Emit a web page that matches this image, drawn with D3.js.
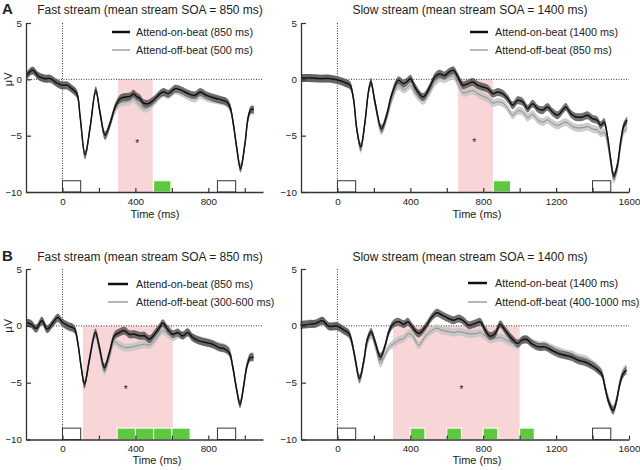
<!DOCTYPE html>
<html><head><meta charset="utf-8">
<script src="https://cdn.jsdelivr.net/npm/d3@7"></script>
<style>
body{margin:0;background:#fff}
svg{display:block}
text{font-family:"Liberation Sans",Arial,Helvetica,sans-serif;fill:#222}
</style>
</head><body>
<svg id="chart" width="640" height="470"></svg>
<script>
// ---------------- DATA ----------------
// Panel A, fast stream
const timeA1 = [-195,-164,-131,-95,-67,-31,-3,24,51,79,97,124,152,183,207,234,261,289,316,344,371,389,407,426,444,471,499,526,553,581,618,654,690,727,755,791,827,864,901,919,937,955,977,1001,1019,1034,1050];
const onA1  = [0.35,0.8,0.27,0.06,0.06,-0.33,-0.53,-0.53,-0.83,-1.27,-3.34,-6.7,-4.23,-0.98,-3.05,-4.97,-3.93,-2.45,-1.72,-1.57,-1.51,-1.27,-1.51,-1.72,-2.1,-2.16,-1.86,-1.42,-1.12,-1.27,-0.83,-0.98,-1.27,-1.42,-1.12,-1.42,-1.63,-1.8,-2.01,-2.45,-3.93,-6.0,-7.93,-5.7,-3.34,-2.69,-2.69];
const offA1 = [0.3,0.75,0.3,0.05,0.0,-0.35,-0.6,-0.6,-0.9,-1.35,-3.4,-6.8,-4.3,-1.0,-3.1,-5.1,-4.05,-2.7,-2.1,-2.0,-1.9,-1.7,-2.0,-2.3,-2.6,-2.5,-2.1,-1.6,-1.25,-1.4,-1.0,-1.2,-1.5,-1.7,-1.4,-1.65,-1.8,-1.9,-2.1,-2.5,-3.9,-5.9,-7.8,-5.8,-3.5,-2.8,-2.8];

// Panel A, slow stream
const timeA2 = [-195,-149,-95,-40,6,42,69,88,106,128,151,170,184,206,242,270,297,334,361,379,401,425,470,507,534,561,588,612,638,661,689,716,743,771,798,825,853,880,907,935,962,989,1017,1044,1071,1099,1126,1153,1180,1208,1235,1253,1281,1308,1344,1372,1399,1426,1445,1463,1481,1499,1517,1536,1554,1572,1590];
const onA2  = [0.12,0.12,0.06,0.06,-0.09,-0.3,-0.53,-1.72,-4.38,-6.0,-3.79,-1.12,-0.24,-2.01,-4.38,-3.19,-1.42,-0.09,-0.38,-0.24,0.06,-0.68,-1.57,-0.68,0.21,0.5,0.35,0.65,0.8,0.21,-0.53,-0.38,-0.24,-0.53,-0.68,-0.83,-1.27,-1.12,-1.27,-1.72,-2.31,-1.86,-2.01,-2.6,-2.16,-2.6,-2.75,-2.45,-2.9,-3.19,-2.75,-2.45,-3.05,-3.34,-3.34,-3.19,-3.49,-3.64,-4.08,-3.79,-4.97,-7.04,-8.6,-7.63,-5.56,-4.08,-3.64];
const offA2 = [0.1,0.1,0.05,0.03,-0.12,-0.35,-0.6,-1.8,-4.5,-6.2,-3.9,-1.2,-0.35,-2.2,-4.6,-3.5,-1.9,-0.6,-0.9,-0.8,-0.5,-1.2,-1.9,-1.1,-0.3,0.1,0.0,0.2,0.3,-0.4,-1.2,-1.1,-1.0,-1.3,-1.5,-1.7,-2.1,-2.0,-2.1,-2.6,-3.2,-2.8,-2.9,-3.4,-3.1,-3.6,-3.8,-3.6,-3.9,-4.1,-3.9,-3.8,-4.1,-4.3,-4.3,-4.2,-4.4,-4.5,-4.8,-4.7,-5.6,-7.4,-8.9,-8.0,-6.0,-4.6,-4.3];

// Panel B, fast stream
const timeB1 = [-199,-172,-144,-113,-84,-53,-26,0,29,66,84,102,121,148,181,203,230,258,285,312,340,367,395,422,449,477,504,532,550,577,605,632,659,687,714,751,787,824,860,888,915,933,952,974,994,1012,1030,1048];
const onB1  = [0.29,0.15,-0.24,0.44,-0.29,0.24,0.74,0.29,0,-0.29,-1.47,-3.53,-5.15,-2.94,-0.59,-1.91,-3.68,-2.35,-0.88,-0.59,-0.44,-0.74,-0.74,-0.88,-0.88,-1.18,-0.74,-0.15,0.24,-0.29,-0.74,-0.59,-0.88,-0.59,-1.03,-1.32,-1.47,-1.62,-1.91,-2.0,-2.35,-3.53,-5.3,-6.91,-5.3,-3.53,-2.79,-2.79];
const offB1 = [0.25,0.2,-0.3,0.4,-0.3,0.2,0.6,0.2,-0.1,-0.35,-1.5,-3.6,-5.2,-3.1,-0.8,-2.2,-4.0,-2.8,-1.4,-1.7,-1.9,-1.9,-1.8,-1.7,-1.6,-1.7,-1.3,-0.7,-0.4,-0.7,-1.0,-0.8,-0.8,-0.5,-1.0,-1.25,-1.4,-1.6,-1.8,-1.9,-2.2,-3.4,-5.2,-6.8,-5.2,-3.4,-2.7,-2.7];

// Panel B, slow stream
const timeB2 = [-202,-156,-119,-83,-47,-1,36,63,81,99,121,145,163,185,209,236,260,282,309,337,364,388,410,446,483,519,546,574,610,638,665,692,720,756,784,811,838,866,893,920,957,990,1012,1039,1066,1103,1139,1176,1212,1249,1285,1322,1358,1395,1422,1450,1468,1486,1513,1532,1550,1568,1586];
const onB2  = [0.06,0.15,0.21,0.44,-0.03,-0.03,-0.38,-0.68,-1.56,-3.03,-4.65,-3.03,-1.27,-0.53,-1.56,-2.74,-1.85,-0.53,0.21,0.35,0.15,0.35,-0.09,-0.68,-0.09,0.79,1.15,0.94,0.65,0.5,0.65,0.44,0.06,0.21,0.35,-0.38,-0.91,-0.68,0.15,-0.38,-1.12,-1.56,-1.26,-1.2,-1.56,-1.85,-1.85,-2.15,-2.44,-2.59,-2.74,-3.03,-3.18,-3.47,-3.77,-4.21,-5.38,-6.56,-7.44,-6.56,-5.09,-4.21,-3.91];
const offB2 = [0.1,0.2,0.15,0.4,-0.05,-0.1,-0.45,-0.75,-1.7,-3.2,-4.8,-3.3,-1.6,-0.8,-1.9,-3.3,-2.6,-1.9,-1.56,-1.26,-1.1,-0.7,-0.8,-1.7,-0.9,-0.4,-0.2,-0.4,-0.5,-0.6,-0.5,-0.6,-0.7,-0.7,-0.6,-0.9,-1.2,-1.1,-1.0,-1.2,-1.5,-1.7,-1.3,-1.2,-1.45,-1.7,-1.7,-1.95,-2.2,-2.4,-2.5,-2.8,-2.9,-3.3,-3.6,-4.1,-5.2,-6.4,-7.3,-6.4,-4.9,-4.0,-3.7];

// standard-error half widths (µV)
const seOn = 0.35, seOff = 0.35;

// annotations
const pinkA1 = [305, 495], pinkA2 = [662, 853], pinkB1 = [112, 605], pinkB2 = [305, 1000];
const greenA1 = [[500, 595]];
const greenA2 = [[855, 950]];
const greenB1 = [[300, 400], [400, 500], [500, 600], [600, 700]];
const greenB2 = [[400, 480], [600, 680], [800, 880], [1000, 1080]];
const stimFast = [[0, 100], [850, 950]];
const stimSlow = [[0, 100], [1400, 1500]];
const starA1 = [410, -5.6], starA2 = [750, -5.5], starB1 = [347, -5.5], starB2 = [680, -5.5];

const titles = ["Fast stream (mean stream SOA = 850 ms)", "Slow stream (mean stream SOA = 1400 ms)"];
const legA1 = ["Attend-on-beat (850 ms)", "Attend-off-beat (500 ms)"];
const legA2 = ["Attend-on-beat (1400 ms)", "Attend-off-beat (850 ms)"];
const legB1 = ["Attend-on-beat (850 ms)", "Attend-off-beat (300-600 ms)"];
const legB2 = ["Attend-on-beat (1400 ms)", "Attend-off-beat (400-1000 ms)"];
const yTicks = [5, 0, -5, -10];
const xTicksFast = [-200, 0, 200, 400, 600, 800, 1000];
const xTicksSlow = [-200, 0, 200, 400, 600, 800, 1000, 1200, 1400, 1600];
const xDomFast = [-200, 1100], xDomSlow = [-200, 1600], yDom = [-10, 5];

// ---------------- LAYOUT ----------------
const panels = [
  {t: timeA1, on: onA1, off: offA1, pink: pinkA1, green: greenA1, stim: stimFast, star: starA1, title: titles[0], leg: legA1, ticks: xTicksFast, xdom: xDomFast,
   xr: [26, 263], yr: [192, 23], titleX: 150, titleY: 14, legX: [112, 130, 136], legY: [32, 50], timeX: 155, timeY: 218, muv: true, letter: "A"},
  {t: timeA2, on: onA2, off: offA2, pink: pinkA2, green: greenA2, stim: stimSlow, star: starA2, title: titles[1], leg: legA2, ticks: xTicksSlow, xdom: xDomSlow,
   xr: [301, 629], yr: [192, 23], titleX: 470, titleY: 14, legX: [470, 488, 495], legY: [32, 50], timeX: 477, timeY: 218, muv: false},
  {t: timeB1, on: onB1, off: offB1, pink: pinkB1, green: greenB1, stim: stimFast, star: starB1, title: titles[0], leg: legB1, ticks: xTicksFast, xdom: xDomFast,
   xr: [26, 263], yr: [439.5, 269], titleX: 150, titleY: 261, legX: [108, 128, 136], legY: [284, 302], timeX: 157, timeY: 464, muv: true, letter: "B"},
  {t: timeB2, on: onB2, off: offB2, pink: pinkB2, green: greenB2, stim: stimSlow, star: starB2, title: titles[1], leg: legB2, ticks: xTicksSlow, xdom: xDomSlow,
   xr: [301, 629], yr: [439.5, 269], titleX: 470, titleY: 261, legX: [468, 487, 495], legY: [283, 302], timeX: 477, timeY: 464, muv: false}
];

const svg = d3.select("#chart");

panels.forEach(p => {
  const x = d3.scaleLinear().domain(p.xdom).range(p.xr);
  const y = d3.scaleLinear().domain(yDom).range(p.yr);
  const g = svg.append("g");
  const on = p.t.map((t, i) => ({t, v: p.on[i]}));
  const off = p.t.map((t, i) => ({t, v: p.off[i]}));

  // significant window (pink)
  g.append("rect").attr("x", x(p.pink[0])).attr("width", x(p.pink[1]) - x(p.pink[0]))
    .attr("y", y(0)).attr("height", y(-10) - y(0)).attr("fill", "#f8d5d6");

  // dotted reference lines
  g.append("line").attr("x1", x(p.xdom[0])).attr("x2", x(p.xdom[1])).attr("y1", y(0)).attr("y2", y(0))
    .attr("stroke", "#333").attr("stroke-width", 1).attr("stroke-dasharray", "1,1.5");
  g.append("line").attr("x1", x(0)).attr("x2", x(0)).attr("y1", y(5)).attr("y2", y(-10))
    .attr("stroke", "#333").attr("stroke-width", 1).attr("stroke-dasharray", "1,1.5");

  const curve = d3.curveCatmullRom.alpha(0.5);
  const bandOff = d3.area().curve(curve).x(d => x(d.t)).y0(d => y(d.v - seOff)).y1(d => y(d.v + seOff));
  const bandOn = d3.area().curve(curve).x(d => x(d.t)).y0(d => y(d.v - seOn)).y1(d => y(d.v + seOn));
  const line = d3.line().curve(curve).x(d => x(d.t)).y(d => y(d.v));

  g.append("path").datum(off).attr("d", bandOff).attr("fill", "#c4c4c4").attr("fill-opacity", 0.85);
  g.append("path").datum(on).attr("d", bandOn).attr("fill", "#3c3c3c").attr("fill-opacity", 0.72);
  g.append("path").datum(off).attr("d", line).attr("fill", "none").attr("stroke", "#8a8a8a").attr("stroke-width", 1);
  g.append("path").datum(on).attr("d", line).attr("fill", "none").attr("stroke", "#111").attr("stroke-width", 1.5);

  // stimulus boxes and green blocks
  g.selectAll(".stim").data(p.stim).enter().append("rect")
    .attr("x", d => x(d[0])).attr("width", d => x(d[1]) - x(d[0]))
    .attr("y", y(-9)).attr("height", y(-10) - y(-9))
    .attr("fill", "#fff").attr("stroke", "#333").attr("stroke-width", 1);
  g.selectAll(".grn").data(p.green).enter().append("rect")
    .attr("x", d => x(d[0])).attr("width", d => x(d[1]) - x(d[0]))
    .attr("y", y(-9)).attr("height", y(-10) - y(-9))
    .attr("fill", "#5dc93e").attr("stroke", "#fff").attr("stroke-width", 1);

  // asterisk
  g.append("text").attr("x", x(p.star[0])).attr("y", y(p.star[1]) + 5).attr("text-anchor", "middle")
    .attr("font-size", 10).text("*");

  // axes
  const xAxis = d3.axisBottom(x).tickValues(p.ticks).tickSizeInner(-4).tickSizeOuter(0).tickPadding(6)
    .tickFormat(d => (d % 400 === 0 && d >= 0) ? d : "");
  const gx = g.append("g").attr("transform", `translate(0,${y(-10)})`).call(xAxis);
  const yAxis = d3.axisLeft(y).tickValues(yTicks).tickSizeInner(-5).tickSizeOuter(0).tickPadding(4);
  const gy = g.append("g").attr("transform", `translate(${x(p.xdom[0])},0)`).call(yAxis);
  [gx, gy].forEach(a => {
    a.select(".domain").attr("stroke", "#333").attr("stroke-width", 1.3);
    a.selectAll(".tick line").attr("stroke", "#333").attr("stroke-width", 1.2);
    a.selectAll(".tick text").attr("font-size", 9.8).attr("fill", "#222")
      .attr("font-family", "'Liberation Sans',Arial,sans-serif");
  });
  gx.selectAll(".tick").filter(d => d === p.xdom[0]).select("line").remove();

  // titles, labels
  g.append("text").attr("x", p.titleX).attr("y", p.titleY).attr("text-anchor", "middle")
    .attr("font-size", 12).text(p.title);
  g.append("text").attr("x", p.timeX).attr("y", p.timeY).attr("text-anchor", "middle")
    .attr("font-size", 11).text("Time (ms)");
  if (p.muv) {
    g.append("text").attr("transform", `translate(12,${y(0)}) rotate(-90)`).attr("text-anchor", "middle")
      .attr("font-size", 11).text("μV");
  }
  if (p.letter) {
    g.append("text").attr("x", 2).attr("y", p.titleY).attr("font-size", 15).attr("font-weight", "bold")
      .attr("fill", "#111").text(p.letter);
  }

  // legend
  g.append("line").attr("x1", p.legX[0]).attr("x2", p.legX[1]).attr("y1", p.legY[0]).attr("y2", p.legY[0])
    .attr("stroke", "#111").attr("stroke-width", 2.5);
  g.append("line").attr("x1", p.legX[0]).attr("x2", p.legX[1]).attr("y1", p.legY[1]).attr("y2", p.legY[1])
    .attr("stroke", "#888").attr("stroke-width", 1.2);
  p.leg.forEach((s, i) => {
    g.append("text").attr("x", p.legX[2]).attr("y", p.legY[i] + 4).attr("font-size", 10.8).text(s);
  });
});
</script>
</body></html>
